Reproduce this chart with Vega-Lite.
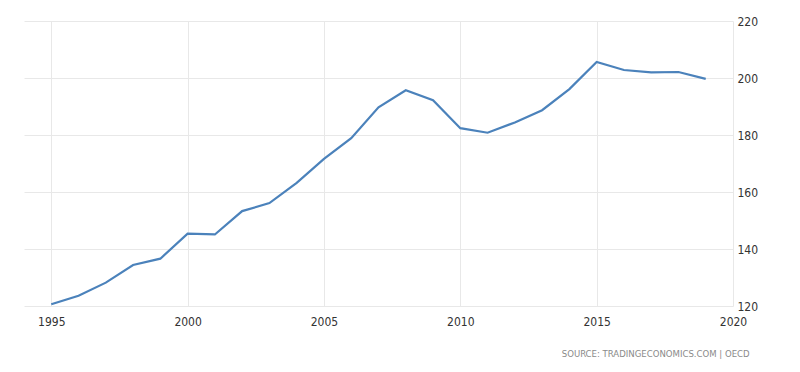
{
  "$schema": "https://vega.github.io/schema/vega-lite/v6.json",
  "width": 709,
  "height": 285,
  "autosize": "none",
  "padding": {"left": 24, "top": 21, "right": 67, "bottom": 66},
  "background": "white",
  "config": {"view": {"stroke": null}, "font": "DejaVu Sans Condensed, Liberation Sans Narrow, Liberation Sans, sans-serif"},
  "title": {
    "text": "SOURCE: TRADINGECONOMICS.COM  |  OECD",
    "orient": "bottom",
    "anchor": "end",
    "fontSize": 9.5,
    "fontWeight": "normal",
    "color": "#8a8a8a",
    "font": "DejaVu Sans Condensed, Liberation Sans Narrow, Liberation Sans, sans-serif",
    "offset": 22,
    "dx": -8
  },
  "data": {
    "values": [
      {"year": 1995, "value": 120.6},
      {"year": 1996, "value": 123.6},
      {"year": 1997, "value": 128.2},
      {"year": 1998, "value": 134.4},
      {"year": 1999, "value": 136.6},
      {"year": 2000, "value": 145.4},
      {"year": 2001, "value": 145.1},
      {"year": 2002, "value": 153.3},
      {"year": 2003, "value": 156.1},
      {"year": 2004, "value": 163.2},
      {"year": 2005, "value": 171.6},
      {"year": 2006, "value": 178.9},
      {"year": 2007, "value": 189.7},
      {"year": 2008, "value": 195.7},
      {"year": 2009, "value": 192.2},
      {"year": 2010, "value": 182.4},
      {"year": 2011, "value": 180.8},
      {"year": 2012, "value": 184.4},
      {"year": 2013, "value": 188.7},
      {"year": 2014, "value": 196.1},
      {"year": 2015, "value": 205.6},
      {"year": 2016, "value": 202.8},
      {"year": 2017, "value": 202.0},
      {"year": 2018, "value": 202.1},
      {"year": 2019, "value": 199.7}
    ]
  },
  "mark": {"type": "line", "color": "#4b82bb", "strokeWidth": 2.2},
  "encoding": {
    "x": {
      "field": "year",
      "type": "quantitative",
      "scale": {"domain": [1994, 2020], "nice": false, "zero": false},
      "axis": {
        "title": null,
        "values": [1995, 2000, 2005, 2010, 2015, 2020],
        "format": "d",
        "domain": false,
        "ticks": false,
        "labelPadding": 10,
        "labelFontSize": 12,
        "labelColor": "#333333",
        "gridColor": "#e8e8e8",
        "gridWidth": 1,
        "labelFlush": false
      }
    },
    "y": {
      "field": "value",
      "type": "quantitative",
      "scale": {"domain": [120, 220], "nice": false, "zero": false},
      "axis": {
        "title": null,
        "orient": "right",
        "values": [120, 140, 160, 180, 200, 220],
        "domain": false,
        "ticks": false,
        "labelPadding": 4,
        "labelFontSize": 12,
        "labelColor": "#333333",
        "gridColor": "#e8e8e8",
        "gridWidth": 1,
        "labelFlush": false
      }
    }
  }
}
